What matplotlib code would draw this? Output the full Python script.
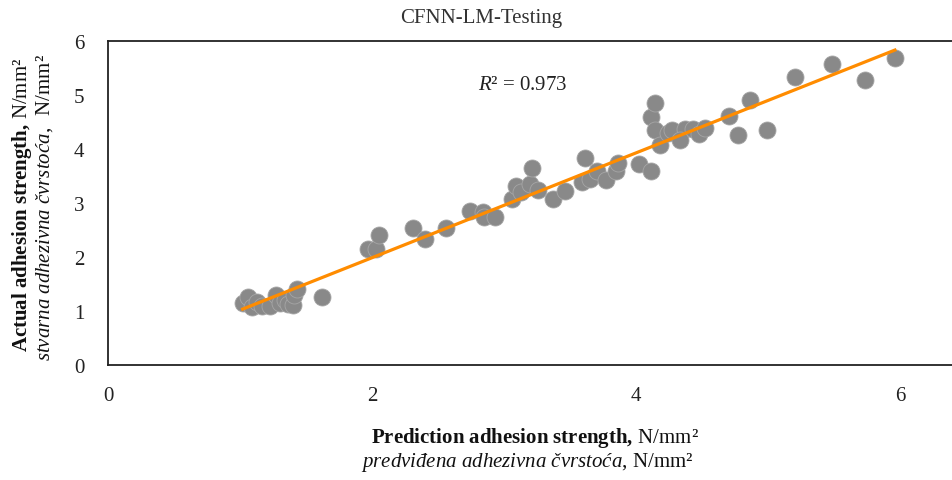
import numpy as np
import matplotlib
matplotlib.use("Agg")
import matplotlib.pyplot as plt

plt.rcParams['font.family'] = ['Liberation Serif', 'DejaVu Serif']
plt.rcParams['mathtext.fontset'] = 'custom'
plt.rcParams['mathtext.rm'] = 'Liberation Serif'
plt.rcParams['mathtext.it'] = 'Liberation Serif:italic'
plt.rcParams['mathtext.bf'] = 'Liberation Serif:bold'

# predicted (x) vs actual (y) adhesion strength, N/mm2
predicted = [1.02, 1.06, 1.09, 1.13, 1.17, 1.23, 1.27, 1.30, 1.34, 1.36, 1.40, 1.41, 1.43,
             1.62, 1.97, 2.03, 2.05, 2.31, 2.40, 2.56, 2.74, 2.84, 2.85, 2.93, 3.06, 3.09,
             3.13, 3.20, 3.21, 3.26, 3.37, 3.46, 3.59, 3.61, 3.65, 3.70, 3.77, 3.85, 3.86,
             4.02, 4.11, 4.11, 4.14, 4.14, 4.18, 4.24, 4.27, 4.37, 4.43, 4.48, 4.52, 4.33,
             4.70, 4.77, 4.86, 4.99, 5.20, 5.48, 5.73, 5.96]
actual = [1.15, 1.26, 1.07, 1.17, 1.09, 1.09, 1.30, 1.15, 1.20, 1.13, 1.11, 1.30, 1.41,
          1.26, 2.15, 2.15, 2.41, 2.54, 2.33, 2.54, 2.85, 2.83, 2.74, 2.74, 3.07, 3.31,
          3.20, 3.35, 3.65, 3.24, 3.07, 3.22, 3.39, 3.83, 3.44, 3.59, 3.43, 3.59, 3.74,
          3.72, 3.59, 4.59, 4.85, 4.35, 4.07, 4.30, 4.35, 4.37, 4.37, 4.28, 4.39, 4.17,
          4.61, 4.26, 4.91, 4.35, 5.33, 5.57, 5.28, 5.69]
r2_text = "0.973"

x = np.array(predicted)
y = np.array(actual)
slope, intercept = np.polyfit(x, y, 1)
xl = np.array([x.min(), x.max()])

fig = plt.figure(figsize=(9.53, 4.81), dpi=100)
ax = fig.add_axes([108 / 953, 115 / 481, 845 / 953, 324 / 481])

ax.scatter(x, y, s=150, color='#898989', edgecolor='#a6a6a6', linewidth=0.6, zorder=2)
ax.plot(xl, slope * xl + intercept, color='#ff8c00', linewidth=2.3, zorder=3)

ax.set_xlim(0, 6.4)
ax.set_ylim(0, 6)
ax.set_xticks([0, 2, 4, 6])
ax.set_yticks(range(7))
ax.tick_params(length=0, labelsize=15, labelcolor='#222222')
ax.tick_params(axis='x', pad=15)
ax.tick_params(axis='y', pad=17)
ax.spines['right'].set_visible(False)
for s in ['left', 'top', 'bottom']:
    ax.spines[s].set_linewidth(1.3)
    ax.spines[s].set_color('#222222')

ax.text(2.8, 5.2, r"$R$² = " + r2_text, fontsize=15, va='center', color='#222222')

fig.text(481 / 953, 1 - 18 / 481, "CFNN-LM-Testing", ha='center', va='center',
         fontsize=15, color='#333333')

fig.text(535 / 953, 1 - 438 / 481, r"$\mathbf{Prediction\ adhesion\ strength,}\,$" + "N/mm²",
         ha='center', va='center', fontsize=15, color='#111111')
fig.text(527 / 953, 1 - 463 / 481, r"$\mathit{predviđena\ adhezivna\ čvrstoća,}\,$" + "N/mm²",
         ha='center', va='center', fontsize=15, color='#111111')

fig.text(22 / 953, 1 - 205 / 481, r"$\mathbf{Actual\ adhesion\ strength,}\,$" + "N/mm²",
         ha='center', va='center', rotation=90, fontsize=15, color='#111111')
fig.text(45 / 953, 1 - 208 / 481, r"$\mathit{stvarna\ adhezivna\ čvrstoća,}\;$" + " N/mm²",
         ha='center', va='center', rotation=90, fontsize=15, color='#111111')

fig.savefig('out.png', dpi=100)
